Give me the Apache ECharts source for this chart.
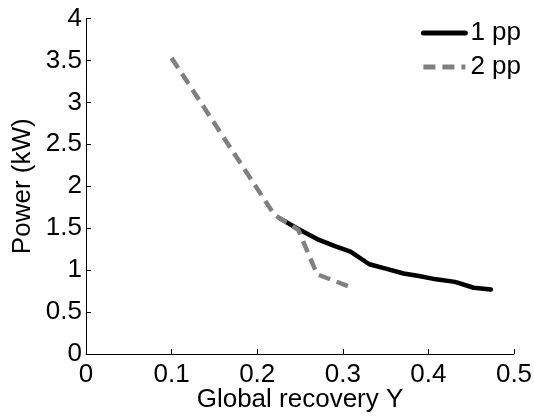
<!DOCTYPE html>
<html>
<head>
<meta charset="utf-8">
<script src="https://cdn.jsdelivr.net/npm/echarts@6/dist/echarts.min.js"></script>
<style>
html,body{margin:0;padding:0;background:#fff;}
#chart{width:534px;height:416px;}
</style>
</head>
<body>
<div id="chart"></div>
<script>
var seriesNames = ['1 pp', '2 pp'];
var x1pp = [0.226, 0.248, 0.270, 0.290, 0.309, 0.331, 0.349, 0.371, 0.389, 0.409, 0.431, 0.453, 0.473];
var y1pp = [1.62, 1.49, 1.37, 1.29, 1.22, 1.07, 1.02, 0.96, 0.93, 0.89, 0.86, 0.79, 0.77];
var x2pp = [0.100, 0.220, 0.248, 0.270, 0.306];
var y2pp = [3.53, 1.66, 1.48, 0.95, 0.81];
var xTicks = [0, 0.1, 0.2, 0.3, 0.4, 0.5];
var yTicks = [0, 0.5, 1, 1.5, 2, 2.5, 3, 3.5, 4];
var xTitle = 'Global recovery Y';
var yTitle = 'Power (kW)';

function pairs(xs, ys) { return xs.map(function (x, i) { return [x, ys[i]]; }); }

var font = 'Liberation Sans, Arial, sans-serif';
var fs = 26;
var chart = echarts.init(document.getElementById('chart'));
chart.setOption({
  animation: false,
  backgroundColor: '#fff',
  grid: { left: 86, right: 20, top: 18.5, bottom: 62, containLabel: false, outerBoundsMode: 'none' },
  legend: {
    orient: 'vertical',
    right: 8,
    top: 15,
    itemWidth: 42,
    itemHeight: 26,
    itemGap: 8,
    itemStyle: { opacity: 0 },
    lineStyle: { width: 5 },
    textStyle: { fontFamily: font, fontSize: fs, color: '#000' },
    data: seriesNames
  },
  xAxis: {
    type: 'value',
    min: xTicks[0],
    max: xTicks[xTicks.length - 1],
    interval: 0.1,
    name: xTitle,
    nameLocation: 'middle',
    nameGap: 33,
    nameMoveOverlap: false,
    nameTextStyle: { fontFamily: font, fontSize: fs, color: '#000' },
    axisLine: { show: true, onZero: false, lineStyle: { color: '#000', width: 1 } },
    axisTick: { show: true, inside: true, length: 5, lineStyle: { color: '#000' } },
    axisLabel: { fontFamily: font, fontSize: fs, color: '#000', margin: 8,
      formatter: function (v) { return String(Math.round(v * 10) / 10); } },
    splitLine: { show: false }
  },
  yAxis: {
    type: 'value',
    min: yTicks[0],
    max: yTicks[yTicks.length - 1],
    interval: 0.5,
    name: yTitle,
    nameLocation: 'middle',
    nameGap: 50,
    nameMoveOverlap: false,
    nameTextStyle: { fontFamily: font, fontSize: fs, color: '#000' },
    axisLine: { show: true, onZero: false, lineStyle: { color: '#000', width: 1 } },
    axisTick: { show: true, inside: true, length: 5, lineStyle: { color: '#000' } },
    axisLabel: { fontFamily: font, fontSize: fs, color: '#000', margin: 4 },
    splitLine: { show: false }
  },
  series: [
    {
      name: seriesNames[0],
      type: 'line',
      data: pairs(x1pp, y1pp),
      symbol: 'none',
      lineStyle: { color: '#000', width: 4.5, cap: 'round', join: 'round' },
      itemStyle: { color: '#000' },
      z: 3
    },
    {
      name: seriesNames[1],
      type: 'line',
      data: pairs(x2pp, y2pp),
      symbol: 'none',
      lineStyle: { color: '#808080', width: 4.5, type: [12, 7], cap: 'butt' },
      itemStyle: { color: '#808080' },
      z: 4
    }
  ]
});
</script>
</body>
</html>
